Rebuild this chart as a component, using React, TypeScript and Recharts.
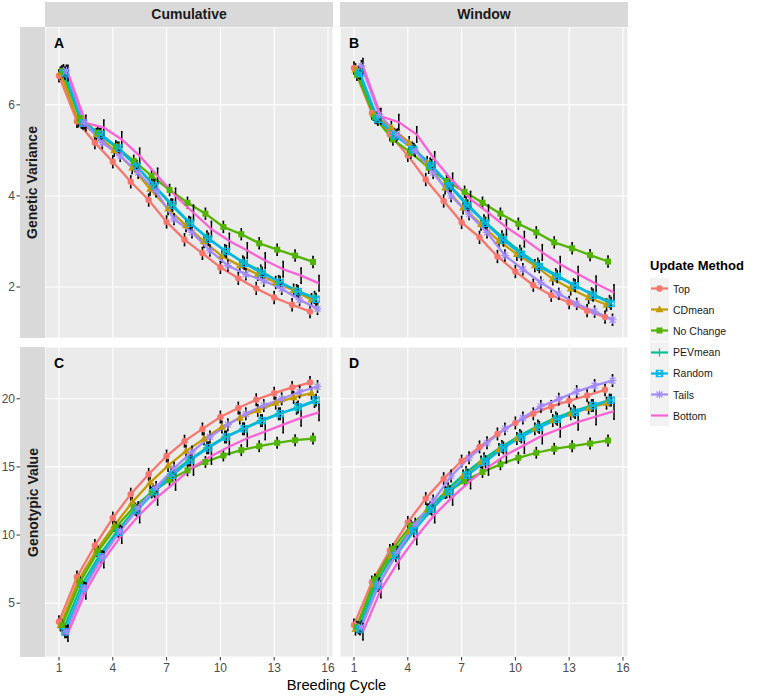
import React from 'react';
import { LineChart, Line, XAxis, YAxis, CartesianGrid, ErrorBar } from 'recharts';

// ---------- DATA ----------
const cycles = [1, 2, 3, 4, 5, 6, 7, 8, 9, 10, 11, 12, 13, 14, 15];
const methods = ['Top', 'CDmean', 'No Change', 'PEVmean', 'Random', 'Tails', 'Bottom'];
const xTicks = [1, 4, 7, 10, 13, 16];
const xMinor = [2.5, 5.5, 8.5, 11.5, 14.5];
const varTicks = [2, 4, 6];
const varMinor = [1, 3, 5, 7];
const gvTicks = [5, 10, 15, 20];
const gvMinor = [2.5, 7.5, 12.5, 17.5, 22.5];

// Panel A: Genetic Variance, Cumulative
const cumVarTop = [6.64, 5.64, 5.17, 4.75, 4.31, 3.91, 3.43, 3.04, 2.74, 2.43, 2.19, 1.97, 1.77, 1.61, 1.46];
const cumVarCDmean = [6.7, 5.65, 5.35, 5.0, 4.62, 4.15, 3.72, 3.35, 3.0, 2.68, 2.47, 2.28, 2.1, 1.93, 1.72];
const cumVarNoChange = [6.74, 5.71, 5.39, 5.09, 4.77, 4.44, 4.13, 3.85, 3.61, 3.32, 3.16, 2.96, 2.82, 2.69, 2.55];
const cumVarPEVmean = [6.75, 5.62, 5.35, 5.05, 4.68, 4.25, 3.8, 3.42, 3.1, 2.8, 2.55, 2.35, 2.12, 1.92, 1.77];
const cumVarRandom = [6.7, 5.6, 5.35, 5.05, 4.65, 4.22, 3.8, 3.4, 3.05, 2.78, 2.52, 2.3, 2.1, 1.9, 1.73];
const cumVarTails = [6.75, 5.6, 5.17, 4.88, 4.51, 4.1, 3.49, 3.2, 2.8, 2.47, 2.28, 2.14, 1.96, 1.72, 1.52];
const cumVarBottom = [6.7, 5.6, 5.5, 5.24, 4.88, 4.44, 4.0, 3.63, 3.27, 3.01, 2.8, 2.58, 2.39, 2.25, 2.08];
const cumVarErr = [0.13, 0.13, 0.12, 0.13, 0.13, 0.12, 0.17];

// Panel B: Genetic Variance, Window
const winVarTop = [6.81, 5.82, 5.35, 4.89, 4.36, 3.89, 3.42, 3.09, 2.67, 2.34, 2.04, 1.82, 1.66, 1.48, 1.34];
const winVarCDmean = [6.77, 5.79, 5.5, 5.17, 4.73, 4.18, 3.74, 3.38, 3.01, 2.72, 2.47, 2.18, 1.96, 1.77, 1.61];
const winVarNoChange = [6.66, 5.72, 5.24, 4.95, 4.62, 4.33, 4.09, 3.85, 3.61, 3.39, 3.2, 2.98, 2.85, 2.7, 2.56];
const winVarPEVmean = [6.72, 5.72, 5.35, 5.05, 4.7, 4.27, 3.85, 3.45, 3.1, 2.78, 2.5, 2.27, 2.05, 1.85, 1.68];
const winVarRandom = [6.7, 5.68, 5.32, 5.02, 4.67, 4.22, 3.78, 3.4, 3.03, 2.72, 2.45, 2.23, 2.03, 1.82, 1.64];
const winVarTails = [6.85, 5.79, 5.35, 4.99, 4.51, 4.0, 3.6, 3.2, 2.69, 2.39, 2.1, 1.85, 1.63, 1.46, 1.28];
const winVarBottom = [6.85, 5.75, 5.62, 5.35, 4.8, 4.33, 3.93, 3.63, 3.31, 3.05, 2.76, 2.5, 2.28, 2.07, 1.88];
const winVarErr = [0.13, 0.13, 0.12, 0.13, 0.13, 0.12, 0.17];

// Panel C: Genotypic Value, Cumulative
const cumGvTop = [3.64, 6.92, 9.23, 11.25, 13.0, 14.46, 15.8, 16.89, 17.79, 18.66, 19.32, 19.93, 20.41, 20.83, 21.19];
const cumGvCDmean = [3.4, 6.68, 8.87, 10.7, 12.4, 13.85, 15.1, 16.16, 17.06, 17.93, 18.59, 19.15, 19.68, 20.1, 20.41];
const cumGvNoChange = [3.35, 6.55, 8.79, 10.57, 12.03, 13.12, 14.04, 14.75, 15.36, 15.84, 16.23, 16.52, 16.77, 16.96, 17.08];
const cumGvPEVmean = [3.1, 6.3, 8.5, 10.3, 11.9, 13.3, 14.5, 15.5, 16.4, 17.2, 17.8, 18.4, 18.9, 19.3, 19.8];
const cumGvRandom = [2.9, 6.1, 8.4, 10.2, 11.8, 13.2, 14.4, 15.5, 16.4, 17.2, 17.8, 18.4, 18.9, 19.4, 19.9];
const cumGvTails = [2.9, 6.1, 8.4, 10.3, 12.0, 13.5, 14.9, 16.1, 17.2, 18.1, 18.9, 19.5, 20.0, 20.5, 20.9];
const cumGvBottom = [2.8, 5.9, 8.2, 10.0, 11.5, 12.8, 13.9, 15.0, 15.8, 16.5, 17.1, 17.6, 18.1, 18.6, 19.0];
const cumGvErr = [0.42, 0.42, 0.38, 0.42, 0.42, 0.42, 0.6];

// Panel D: Genotypic Value, Window
const winGvTop = [3.4, 6.55, 8.87, 10.93, 12.68, 14.14, 15.43, 16.47, 17.42, 18.23, 18.9, 19.44, 19.85, 20.24, 20.66];
const winGvCDmean = [3.1, 6.36, 8.5, 10.25, 11.85, 13.12, 14.34, 15.36, 16.28, 17.08, 17.79, 18.4, 18.9, 19.32, 19.68];
const winGvNoChange = [3.27, 6.75, 8.99, 10.69, 11.9, 13.12, 13.97, 14.63, 15.19, 15.67, 16.04, 16.33, 16.52, 16.72, 16.94];
const winGvPEVmean = [3.2, 6.5, 8.7, 10.5, 12.0, 13.4, 14.6, 15.6, 16.5, 17.3, 18.0, 18.6, 19.1, 19.5, 19.9];
const winGvRandom = [3.1, 6.3, 8.5, 10.3, 11.9, 13.2, 14.4, 15.4, 16.4, 17.2, 17.9, 18.5, 19.0, 19.5, 19.9];
const winGvTails = [3.27, 6.43, 8.74, 10.8, 12.5, 14.33, 15.67, 16.77, 17.79, 18.59, 19.44, 19.97, 20.53, 20.97, 21.34];
const winGvBottom = [2.9, 6.0, 8.1, 9.9, 11.5, 12.8, 14.0, 15.0, 15.9, 16.6, 17.3, 17.8, 18.3, 18.7, 19.1];
const winGvErr = [0.42, 0.42, 0.38, 0.42, 0.42, 0.42, 0.6];

// ---------- STYLE ----------
const COLORS = ['#F8766D', '#C49A00', '#53B400', '#00C094', '#00B6EB', '#A58AFF', '#FB61D7'];
const SHAPES = ['circle', 'triangle', 'square', 'plus', 'squareX', 'asterisk', 'none'];
const DODGE = 0.5;
const X_DOMAIN: [number, number] = [0.22, 16.28];
const FONT = '"Liberation Sans", Arial, Helvetica, sans-serif';

function buildSeries(values: number[][], errs: number[]) {
  return methods.map((m, i) =>
    values[i].map((v, j) => ({
      x: cycles[j] + (i * DODGE) / (methods.length - 1),
      y: v,
      e: errs[i],
    }))
  );
}

const panelA = buildSeries([cumVarTop, cumVarCDmean, cumVarNoChange, cumVarPEVmean, cumVarRandom, cumVarTails, cumVarBottom], cumVarErr);
const panelB = buildSeries([winVarTop, winVarCDmean, winVarNoChange, winVarPEVmean, winVarRandom, winVarTails, winVarBottom], winVarErr);
const panelC = buildSeries([cumGvTop, cumGvCDmean, cumGvNoChange, cumGvPEVmean, cumGvRandom, cumGvTails, cumGvBottom], cumGvErr);
const panelD = buildSeries([winGvTop, winGvCDmean, winGvNoChange, winGvPEVmean, winGvRandom, winGvTails, winGvBottom], winGvErr);

function Marker({ cx, cy, shape, color }: { cx: number; cy: number; shape: string; color: string }) {
  if (cx == null || cy == null || isNaN(cx) || isNaN(cy)) return <g />;
  switch (shape) {
    case 'circle':
      return <circle cx={cx} cy={cy} r={3.2} fill={color} />;
    case 'triangle': {
      const s = 4.2;
      return <polygon points={`${cx},${cy - s} ${cx - s * 0.95},${cy + s * 0.65} ${cx + s * 0.95},${cy + s * 0.65}`} fill={color} />;
    }
    case 'square':
      return <rect x={cx - 3} y={cy - 3} width={6} height={6} fill={color} />;
    case 'plus':
      return <path d={`M${cx - 4},${cy}H${cx + 4}M${cx},${cy - 4}V${cy + 4}`} stroke={color} strokeWidth={1.2} fill="none" />;
    case 'squareX':
      return (
        <g>
          <rect x={cx - 3.2} y={cy - 3.2} width={6.4} height={6.4} stroke={color} strokeWidth={1.1} fill="none" />
          <path d={`M${cx - 3.2},${cy - 3.2}L${cx + 3.2},${cy + 3.2}M${cx - 3.2},${cy + 3.2}L${cx + 3.2},${cy - 3.2}`} stroke={color} strokeWidth={1.1} />
        </g>
      );
    case 'asterisk':
      return (
        <path
          d={`M${cx - 4},${cy}H${cx + 4}M${cx},${cy - 4}V${cy + 4}M${cx - 3},${cy - 3}L${cx + 3},${cy + 3}M${cx - 3},${cy + 3}L${cx + 3},${cy - 3}`}
          stroke={color}
          strokeWidth={1.1}
          fill="none"
        />
      );
    default:
      return <g />;
  }
}

function makeGen(minor: number[], dir: 'x' | 'y') {
  return (props: any) => {
    const axis = dir === 'x' ? props.xAxis : props.yAxis;
    const off = props.offset || {};
    if (axis && typeof axis.scale === 'function') {
      return minor.map((v) => axis.scale(v));
    }
    const dom = axis && axis.domain ? axis.domain : [0, 1];
    if (dir === 'x') return minor.map((v) => off.left + ((v - dom[0]) / (dom[1] - dom[0])) * off.width);
    return minor.map((v) => off.top + off.height - ((v - dom[0]) / (dom[1] - dom[0])) * off.height);
  };
}

const STRIP_W = 25;
const RIGHT_PAD = 12;

function LeftTick(props: any) {
  const { x, y, payload } = props;
  const ax = x - STRIP_W;
  return (
    <g>
      <line x1={ax - 3.5} x2={ax} y1={y} y2={y} stroke="#333333" strokeWidth={1} />
      <text x={ax - 5} y={y} dy="0.35em" textAnchor="end" fill="#4D4D4D" fontSize={12} fontFamily={FONT}>
        {payload.value}
      </text>
    </g>
  );
}

type PanelProps = {
  left: number;
  top: number;
  width: number;
  height: number;
  showY: boolean;
  showX: boolean;
  yDomain: [number, number];
  yTicks: number[];
  yMinor: number[];
  series: { x: number; y: number; e: number }[][];
};

function Panel({ left, top, width, height, showY, showX, yDomain, yTicks, yMinor, series }: PanelProps) {
  return (
    <div style={{ position: 'absolute', left, top }}>
      <LineChart width={width + RIGHT_PAD} height={height} margin={{ top: 0, right: RIGHT_PAD, bottom: 0, left: 0 }}>
        <CartesianGrid
          fill="#EBEBEB"
          fillOpacity={1}
          stroke="#FFFFFF"
          strokeWidth={0.55}
          verticalCoordinatesGenerator={makeGen(xMinor, 'x')}
          horizontalCoordinatesGenerator={makeGen(yMinor, 'y')}
        />
        <CartesianGrid stroke="#FFFFFF" strokeWidth={1.1} fillOpacity={0} />
        <XAxis
          type="number"
          dataKey="x"
          domain={X_DOMAIN}
          ticks={xTicks}
          allowDataOverflow
          hide={!showX}
          height={20}
          axisLine={false}
          tickSize={3.5}
          tickMargin={3}
          tickLine={{ stroke: '#333333' }}
          tick={{ fill: '#4D4D4D', fontSize: 12, fontFamily: FONT }}
          interval={0}
        />
        <YAxis
          type="number"
          dataKey="y"
          domain={yDomain}
          ticks={yTicks}
          allowDataOverflow
          hide={!showY}
          width={45}
          axisLine={false}
          tickLine={false}
          tickSize={0}
          tickMargin={0}
          tick={<LeftTick />}
          interval={0}
        />
        {series.map((data, i) => (
          <Line
            key={methods[i]}
            data={data}
            dataKey="y"
            name={methods[i]}
            stroke={COLORS[i]}
            strokeWidth={2.3}
            type="linear"
            isAnimationActive={false}
            activeDot={false}
            dot={(p: any) => <Marker key={`${methods[i]}-${p.index}`} cx={p.cx} cy={p.cy} shape={SHAPES[i]} color={COLORS[i]} />}
          >
            <ErrorBar dataKey="e" width={0.8} stroke="#000000" strokeWidth={1.5} direction="y" isAnimationActive={false} />
          </Line>
        ))}
      </LineChart>
    </div>
  );
}

function TopStrip({ left, top, width, text }: { left: number; top: number; width: number; text: string }) {
  return (
    <div
      style={{
        position: 'absolute',
        left,
        top,
        width,
        height: 25,
        background: '#D9D9D9',
        color: '#1A1A1A',
        fontFamily: FONT,
        fontWeight: 'bold',
        fontSize: 14,
        lineHeight: '25px',
        textAlign: 'center',
      }}
    >
      {text}
    </div>
  );
}

function SideStrip({ left, top, height, text }: { left: number; top: number; height: number; text: string }) {
  return (
    <div style={{ position: 'absolute', left, top, width: STRIP_W, height, background: '#D9D9D9' }}>
      <div
        style={{
          position: 'absolute',
          left: (STRIP_W - height) / 2,
          top: (height - STRIP_W) / 2,
          width: height,
          height: STRIP_W,
          lineHeight: `${STRIP_W}px`,
          textAlign: 'center',
          transform: 'rotate(-90deg)',
          color: '#1A1A1A',
          fontFamily: FONT,
          fontWeight: 'bold',
          fontSize: 14,
        }}
      >
        {text}
      </div>
    </div>
  );
}

function PanelTag({ left, top, text }: { left: number; top: number; text: string }) {
  return (
    <div style={{ position: 'absolute', left, top, fontFamily: FONT, fontWeight: 'bold', fontSize: 14, color: '#000', lineHeight: '14px' }}>
      {text}
    </div>
  );
}

function Legend() {
  return (
    <div style={{ position: 'absolute', left: 650, top: 258, fontFamily: FONT }}>
      <div style={{ fontWeight: 'bold', fontSize: 13, color: '#000', lineHeight: '16px', marginBottom: 4 }}>Update Method</div>
      {methods.map((m, i) => (
        <div key={m} style={{ display: 'flex', alignItems: 'center', height: 21.2 }}>
          <svg width={19} height={21} style={{ display: 'block' }}>
            <rect x={0} y={0} width={19} height={21} fill="#F2F2F2" />
            <line x1={1} x2={18} y1={10.5} y2={10.5} stroke={COLORS[i]} strokeWidth={2.2} />
            <Marker cx={9.5} cy={10.5} shape={SHAPES[i]} color={COLORS[i]} />
          </svg>
          <span style={{ marginLeft: 4, fontSize: 10.5, color: '#1A1A1A' }}>{m}</span>
        </div>
      ))}
    </div>
  );
}

export default function App() {
  return (
    <div style={{ position: 'absolute', left: 0, top: 0, width: 757, height: 696, background: '#FFFFFF', overflow: 'hidden' }}>
      <Panel left={0} top={27} width={333} height={311} showY showX={false} yDomain={[0.88, 7.71]} yTicks={varTicks} yMinor={varMinor} series={panelA} />
      <Panel left={340} top={27} width={288} height={311} showY={false} showX={false} yDomain={[0.88, 7.71]} yTicks={varTicks} yMinor={varMinor} series={panelB} />
      <Panel left={0} top={347} width={333} height={330} showY showX yDomain={[1.05, 23.8]} yTicks={gvTicks} yMinor={gvMinor} series={panelC} />
      <Panel left={340} top={347} width={288} height={330} showY={false} showX yDomain={[1.05, 23.8]} yTicks={gvTicks} yMinor={gvMinor} series={panelD} />

      <TopStrip left={45} top={2} width={288} text="Cumulative" />
      <TopStrip left={340} top={2} width={288} text="Window" />
      <SideStrip left={20} top={27} height={311} text="Genetic Variance" />
      <SideStrip left={20} top={347} height={310} text="Genotypic Value" />

      <PanelTag left={54} top={36} text="A" />
      <PanelTag left={349} top={36} text="B" />
      <PanelTag left={54} top={356} text="C" />
      <PanelTag left={349} top={356} text="D" />

      <div
        style={{
          position: 'absolute',
          left: 45,
          top: 676,
          width: 583,
          textAlign: 'center',
          fontFamily: FONT,
          fontSize: 14.7,
          color: '#000',
          lineHeight: '18px',
        }}
      >
        Breeding Cycle
      </div>
      <Legend />
    </div>
  );
}
